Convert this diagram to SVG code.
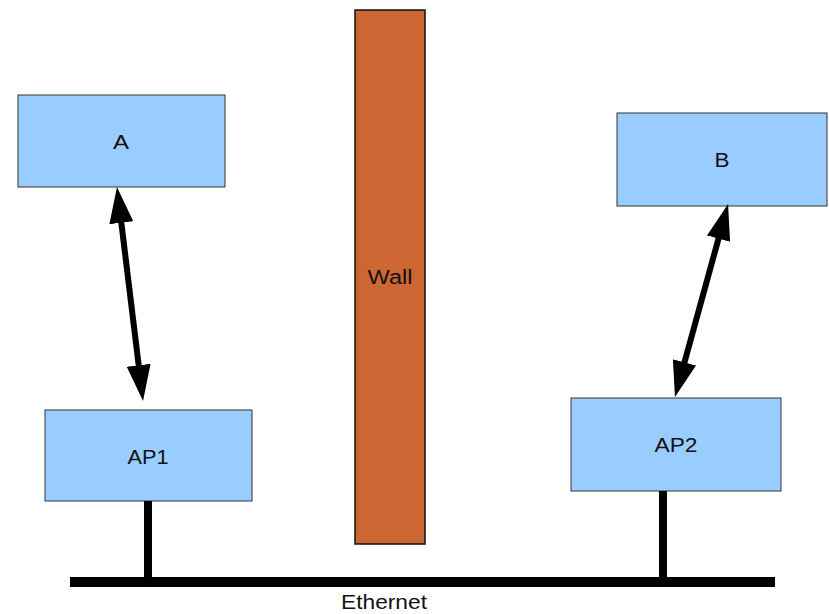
<svg xmlns="http://www.w3.org/2000/svg" width="829" height="614" viewBox="0 0 829 614">
<style>
.box{fill:#99ccff;stroke:#333;stroke-width:1}
.wall{fill:#cc6633;stroke:#111;stroke-width:1.5}
.lbl{font-family:"Liberation Sans",Arial,sans-serif;font-size:20px;fill:#111;text-anchor:middle}
.arrow{stroke:#000;stroke-width:6;fill:none;marker-start:url(#ah);marker-end:url(#ah)}
.wire{stroke:#000;fill:none}
</style>
<defs>
<marker id="ah" markerUnits="userSpaceOnUse" viewBox="0 0 36 24" markerWidth="36" markerHeight="24" refX="6" refY="12" orient="auto-start-reverse">
<path d="M0,0 L36,12 L0,24 z" fill="#000"/>
</marker>
</defs>
<rect x="0" y="0" width="829" height="614" fill="#fff"/>
<g id="wall">
<rect class="wall" x="355" y="10" width="70" height="534"/>
<text class="lbl" x="390" y="284" textLength="45" lengthAdjust="spacingAndGlyphs">Wall</text>
</g>
<g id="nodeA">
<rect class="box" x="18" y="95" width="207" height="92"/>
<text class="lbl" x="121" y="149" textLength="16" lengthAdjust="spacingAndGlyphs">A</text>
</g>
<g id="nodeB">
<rect class="box" x="617" y="113" width="210" height="93"/>
<text class="lbl" x="722" y="167" textLength="15" lengthAdjust="spacingAndGlyphs">B</text>
</g>
<g id="nodeAP1">
<rect class="box" x="45" y="410" width="207" height="91"/>
<text class="lbl" x="148" y="464" textLength="41" lengthAdjust="spacingAndGlyphs">AP1</text>
</g>
<g id="nodeAP2">
<rect class="box" x="571" y="398" width="210" height="93"/>
<text class="lbl" x="676" y="452" textLength="43" lengthAdjust="spacingAndGlyphs">AP2</text>
</g>
<g id="connectors">
<line class="arrow" x1="120.6" y1="216.8" x2="139.4" y2="371.2"/>
<line class="arrow" x1="720.1" y1="232.9" x2="682.9" y2="368.1"/>
<line class="wire" x1="148" y1="501" x2="148" y2="578" stroke-width="8"/>
<line class="wire" x1="663" y1="491" x2="663" y2="578" stroke-width="8"/>
<line class="wire" x1="70" y1="582" x2="775" y2="582" stroke-width="10"/>
</g>
<text class="lbl" x="384" y="609" textLength="86" lengthAdjust="spacingAndGlyphs">Ethernet</text>
</svg>
